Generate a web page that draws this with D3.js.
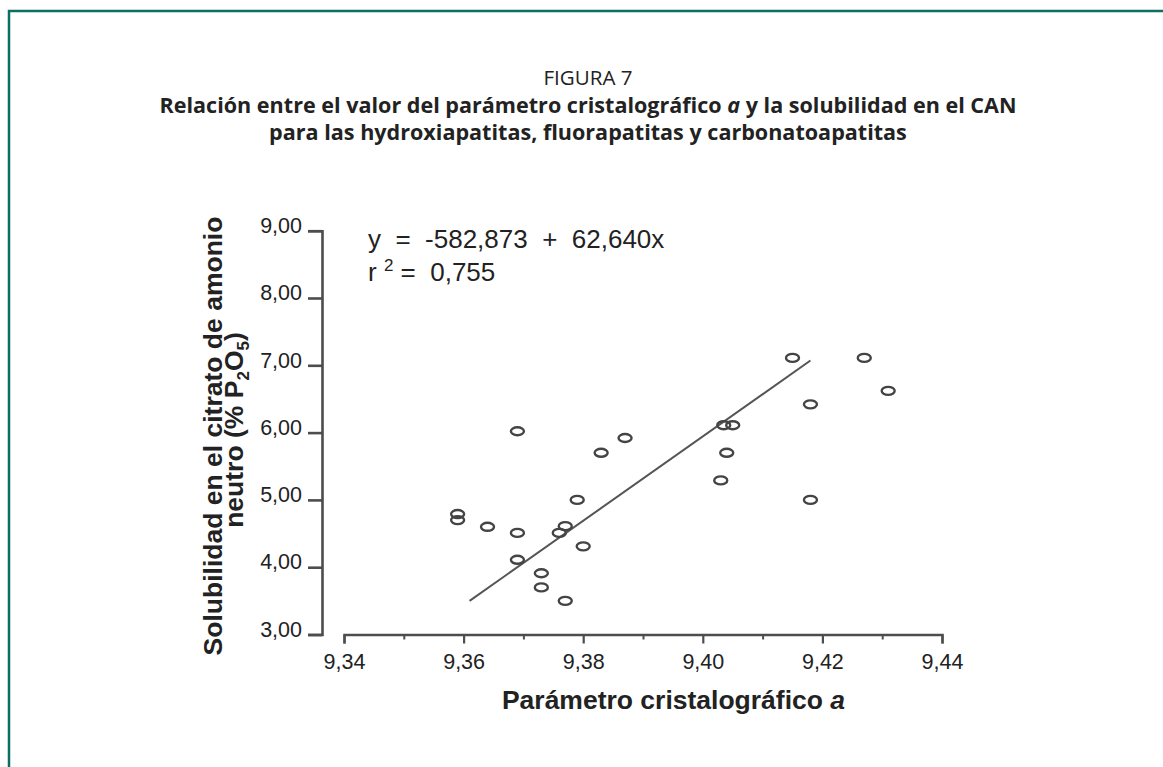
<!DOCTYPE html>
<html>
<head>
<meta charset="utf-8">
<script src="https://cdn.jsdelivr.net/npm/d3@7"></script>
<style>
  html, body { margin: 0; padding: 0; background: #ffffff; }
  svg { display: block; }
  .eq { white-space: pre; }
</style>
</head>
<body>
<svg id="chart" width="1163" height="767"></svg>
<script>
// ---------------- data ----------------
const xValues = [9.369, 9.387, 9.383, 9.379, 9.359, 9.359, 9.364, 9.369, 9.377, 9.376, 9.380, 9.369, 9.373, 9.373, 9.377,
                 9.415, 9.427, 9.431, 9.418, 9.4035, 9.405, 9.404, 9.403, 9.418];
const yValues = [6.02, 5.92, 5.70, 5.00, 4.79, 4.70, 4.60, 4.51, 4.61, 4.51, 4.31, 4.11, 3.91, 3.70, 3.50,
                 7.11, 7.11, 6.62, 6.42, 6.11, 6.11, 5.70, 5.29, 5.00];
const fitIntercept = -582.873;
const fitSlope = 62.640;
const fitXRange = [9.361, 9.418];
const xTicks = [9.34, 9.36, 9.38, 9.40, 9.42, 9.44];
const xMinorTicks = [9.35, 9.37, 9.39, 9.41, 9.43];
const yTicks = [3, 4, 5, 6, 7, 8, 9];
const xDomain = [9.34, 9.44];
const yDomain = [3, 9];

const titleLines = ["FIGURA 7",
  "Relación entre el valor del parámetro cristalográfico ",
  " y la solubilidad en el CAN",
  "para las hydroxiapatitas, fluorapatitas y carbonatoapatitas"];
const equationText = "y  =  -582,873  +  62,640x";
const r2Text = "0,755";

// ---------------- drawing ----------------
const svg = d3.select("#chart");
const TEAL = "#0d6e62";
const AX = "#4d4d4d";
const TXT = "#222222";
const chartFont = "'Liberation Sans', Arial, sans-serif";
const titleFont = "'Open Sans', 'Noto Sans', sans-serif";

// frame
svg.append("path")
  .attr("d", "M9,767 V11 H1163")
  .attr("fill", "none").attr("stroke", TEAL).attr("stroke-width", 2.5);

// titles
const tcx = 588;
const t2 = svg.append("text").attr("x", tcx).attr("y", 113)
  .attr("text-anchor", "middle").attr("font-family", titleFont)
  .attr("font-weight", 700).attr("font-size", 21).attr("fill", TXT);
t2.append("tspan").text(titleLines[1]);
t2.append("tspan").attr("font-style", "italic").text("a");
t2.append("tspan").text(titleLines[2]);
const natural2 = t2.node().getComputedTextLength();
const k = 857 / natural2;
t2.attr("textLength", 857).attr("lengthAdjust", "spacingAndGlyphs");

const t1 = svg.append("text").attr("x", tcx).attr("y", 85)
  .attr("text-anchor", "middle").attr("font-family", titleFont)
  .attr("font-weight", 400).attr("font-size", 20).attr("fill", TXT)
  .text(titleLines[0]);
t1.attr("textLength", t1.node().getComputedTextLength() * k).attr("lengthAdjust", "spacingAndGlyphs");

const t3 = svg.append("text").attr("x", tcx).attr("y", 140)
  .attr("text-anchor", "middle").attr("font-family", titleFont)
  .attr("font-weight", 700).attr("font-size", 21).attr("fill", TXT)
  .text(titleLines[3]);
t3.attr("textLength", t3.node().getComputedTextLength() * k).attr("lengthAdjust", "spacingAndGlyphs");

// scales
const x = d3.scaleLinear().domain(xDomain).range([344, 942]);
const y = d3.scaleLinear().domain(yDomain).range([634.5, 230.7]);
const fmt = v => d3.format(".2f")(v).replace(".", ",");

// y axis
const yAxisG = svg.append("g").attr("transform", "translate(322,0)")
  .call(d3.axisLeft(y).tickValues(yTicks).tickSize(14).tickSizeOuter(14).tickPadding(6).tickFormat(fmt));
yAxisG.select(".domain").attr("stroke", AX).attr("stroke-width", 2.6);
yAxisG.selectAll(".tick line").attr("stroke", AX).attr("stroke-width", 2.6);
yAxisG.selectAll(".tick text").attr("font-family", chartFont).attr("font-size", 21.5)
  .attr("fill", TXT).attr("dy", "0.08em");

// x axis (major + minor)
const xAxisG = svg.append("g").attr("transform", "translate(0,634.5)")
  .call(d3.axisBottom(x).tickValues(xTicks).tickSize(9).tickSizeOuter(9).tickPadding(10).tickFormat(fmt));
xAxisG.select(".domain").attr("stroke", AX).attr("stroke-width", 2.4);
xAxisG.selectAll(".tick line").attr("stroke", AX).attr("stroke-width", 2.2);
xAxisG.selectAll(".tick text").attr("font-family", chartFont).attr("font-size", 21.5).attr("fill", TXT);
const xMinorG = svg.append("g").attr("transform", "translate(0,634.5)")
  .call(d3.axisBottom(x).tickValues(xMinorTicks).tickSize(5).tickFormat(""));
xMinorG.select(".domain").remove();
xMinorG.selectAll(".tick line").attr("stroke", AX).attr("stroke-width", 2);

// axis titles
const xt = svg.append("text").attr("x", 673.5).attr("y", 708.5)
  .attr("text-anchor", "middle").attr("font-family", chartFont)
  .attr("font-weight", 700).attr("font-size", 26.5).attr("fill", TXT);
xt.append("tspan").text("Parámetro cristalográfico ");
xt.append("tspan").attr("font-style", "italic").text("a");

svg.append("text")
  .attr("transform", "translate(222,436) rotate(-90)")
  .attr("text-anchor", "middle").attr("font-family", chartFont)
  .attr("font-weight", 700).attr("font-size", 26.5).attr("fill", TXT)
  .text("Solubilidad en el citrato de amonio");
const yt2 = svg.append("text")
  .attr("transform", "translate(243,430) rotate(-90)")
  .attr("text-anchor", "middle").attr("font-family", chartFont)
  .attr("font-weight", 700).attr("font-size", 26.5).attr("fill", TXT);
yt2.append("tspan").text("neutro (% P");
yt2.append("tspan").attr("font-size", 17).attr("dy", 6).text("2");
yt2.append("tspan").attr("dy", -6).text("O");
yt2.append("tspan").attr("font-size", 17).attr("dy", 6).text("5");
yt2.append("tspan").attr("dy", -6).text(")");

// regression equation
svg.append("text").attr("class", "eq").attr("x", 368).attr("y", 248)
  .attr("font-family", chartFont).attr("font-size", 26).attr("fill", TXT)
  .text(equationText);
const r2 = svg.append("text").attr("class", "eq").attr("x", 368).attr("y", 281)
  .attr("font-family", chartFont).attr("font-size", 26).attr("fill", TXT);
r2.append("tspan").text("r ");
r2.append("tspan").attr("font-size", 17).attr("dy", -10).text("2");
r2.append("tspan").attr("dy", 10).text(" =  " + r2Text);

// regression line
svg.append("line")
  .attr("x1", x(fitXRange[0])).attr("y1", y(fitIntercept + fitSlope * fitXRange[0]))
  .attr("x2", x(fitXRange[1])).attr("y2", y(fitIntercept + fitSlope * fitXRange[1]))
  .attr("stroke", "#555").attr("stroke-width", 2);

// points
svg.append("g").selectAll("ellipse")
  .data(d3.range(xValues.length))
  .join("ellipse")
  .attr("cx", i => x(xValues[i]))
  .attr("cy", i => y(yValues[i]))
  .attr("rx", 6.5).attr("ry", 4)
  .attr("fill", "none").attr("stroke", "#444").attr("stroke-width", 2.4);
</script>
</body>
</html>
